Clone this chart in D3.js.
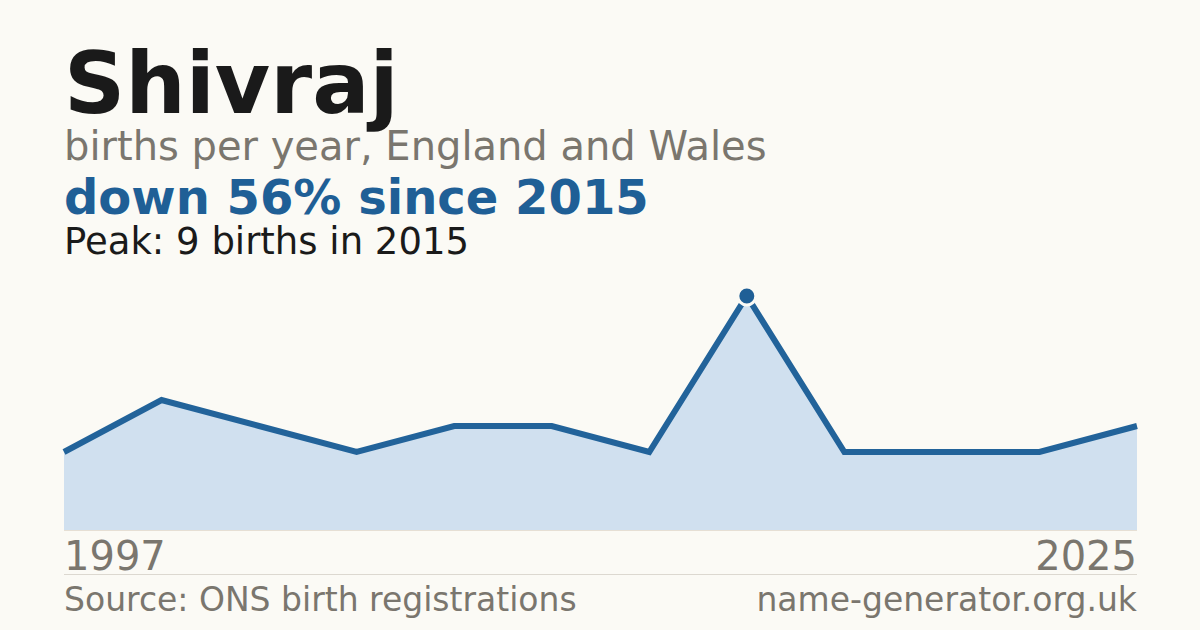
<!DOCTYPE html>
<html>
<head>
<meta charset="utf-8">
<script src="https://cdn.jsdelivr.net/npm/d3@7"></script>
<style>
  html, body { margin: 0; padding: 0; background: #fbfaf5; }
  svg { display: block; font-family: "DejaVu Sans", sans-serif; }
</style>
</head>
<body>
<svg id="chart" width="1200" height="630"></svg>
<script>
// Chart data
const years = [1997, 2001, 2004, 2007, 2009, 2011, 2013, 2015, 2018, 2020, 2022, 2025];
const births = [3, 5, 4, 3, 4, 4, 3, 9, 3, 3, 3, 4];
const axisLabels = ["1997", "2025"];

const nameText = "Shivraj";
const subtitleText = "births per year, England and Wales";
const changeText = "down 56% since 2015";
const peakText = "Peak: 9 births in 2015";
const sourceText = "Source: ONS birth registrations";
const siteText = "name-generator.org.uk";

const W = 1200, H = 630;
const left = 64, right = 1137;
const baseY = 530, peakY = 296;

const svg = d3.select("#chart");

svg.append("rect").attr("width", W).attr("height", H).attr("fill", "#fbfaf5");

// --- header texts
svg.append("text")
  .attr("x", left).attr("y", 113)
  .attr("font-size", 85).attr("font-weight", "bold")
  .attr("fill", "#1a1a1a")
  .text(nameText);

svg.append("text")
  .attr("x", left).attr("y", 160)
  .attr("font-size", 40)
  .attr("fill", "#7a766e")
  .text(subtitleText);

svg.append("text")
  .attr("x", left).attr("y", 214)
  .attr("font-size", 48).attr("font-weight", "bold")
  .attr("fill", "#1f5f96")
  .text(changeText);

svg.append("text")
  .attr("x", left).attr("y", 254)
  .attr("font-size", 37)
  .attr("fill", "#1a1a1a")
  .text(peakText);

// --- scales
const data = years.map((y, i) => ({ year: y, value: births[i] }));

const x = d3.scalePoint().domain(years).range([left, right]);
const y = d3.scaleLinear().domain([0, d3.max(births)]).range([baseY, peakY]);

const area = d3.area()
  .x(d => x(d.year))
  .y0(y(0))
  .y1(d => y(d.value));

const line = d3.line()
  .x(d => x(d.year))
  .y(d => y(d.value));

svg.append("path")
  .datum(data)
  .attr("d", area)
  .attr("fill", "#d0e0ef");

svg.append("line")
  .attr("x1", left).attr("x2", right)
  .attr("y1", y(0) + 0.5).attr("y2", y(0) + 0.5)
  .attr("stroke", "#e6dfd4").attr("stroke-width", 1);

svg.append("path")
  .datum(data)
  .attr("d", line)
  .attr("fill", "none")
  .attr("stroke", "#22639a")
  .attr("stroke-width", 6)
  .attr("stroke-linejoin", "miter");

// peak marker
const peak = data.reduce((a, b) => (b.value > a.value ? b : a));
svg.append("circle")
  .attr("cx", x(peak.year)).attr("cy", y(peak.value))
  .attr("r", 9)
  .attr("fill", "#1f5f96")
  .attr("stroke", "#fbfaf5").attr("stroke-width", 3);

// --- axis end labels
svg.append("text")
  .attr("x", left).attr("y", 570)
  .attr("font-size", 40).attr("fill", "#7a766e")
  .text(axisLabels[0]);

svg.append("text")
  .attr("x", right).attr("y", 570)
  .attr("text-anchor", "end")
  .attr("font-size", 40).attr("fill", "#7a766e")
  .text(axisLabels[1]);

// divider
svg.append("line")
  .attr("x1", left).attr("x2", right)
  .attr("y1", 574.5).attr("y2", 574.5)
  .attr("stroke", "#dcd8d0").attr("stroke-width", 1);

// --- footer
svg.append("text")
  .attr("x", left).attr("y", 611)
  .attr("font-size", 33).attr("fill", "#7a766e")
  .text(sourceText);

svg.append("text")
  .attr("x", right).attr("y", 611)
  .attr("text-anchor", "end")
  .attr("font-size", 33).attr("fill", "#7a766e")
  .text(siteText);
</script>
</body>
</html>
